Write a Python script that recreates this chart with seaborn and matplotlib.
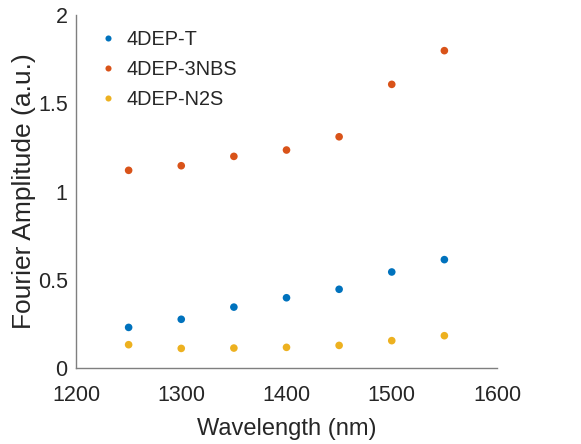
import numpy as np
import pandas as pd
import matplotlib
matplotlib.use("Agg")
import matplotlib.pyplot as plt
import seaborn as sns

wavelength = [1250, 1300, 1350, 1400, 1450, 1500, 1550]
t_vals = [0.23, 0.276, 0.345, 0.398, 0.446, 0.544, 0.614]
nbs_vals = [1.12, 1.146, 1.199, 1.235, 1.31, 1.607, 1.798]
n2s_vals = [0.132, 0.111, 0.113, 0.117, 0.128, 0.155, 0.183]
series_names = ["4DEP-T", "4DEP-3NBS", "4DEP-N2S"]
colors = ["#0072BD", "#D95319", "#EDB120"]

df = pd.DataFrame({
    "Wavelength": wavelength * 3,
    "Amp": t_vals + nbs_vals + n2s_vals,
    "Series": [series_names[0]] * 7 + [series_names[1]] * 7 + [series_names[2]] * 7,
})

sns.set_style("white")
plt.rcParams["font.family"] = ["Liberation Sans", "DejaVu Sans"]

fig = plt.figure(figsize=(5.81, 4.44), dpi=100)
ax = fig.add_axes([76 / 581, 1 - 368 / 444, (497 - 76) / 581, (368 - 15) / 444])

sns.scatterplot(data=df, x="Wavelength", y="Amp", hue="Series",
                palette=colors, s=30, edgecolor="none", ax=ax)

ax.set_xlim(1200, 1600)
ax.set_ylim(0, 2)
ax.set_xticks([1200, 1300, 1400, 1500, 1600])
ax.set_yticks([0, 0.5, 1, 1.5, 2])
ax.set_yticklabels(["0", "0.5", "1", "1.5", "2"])
ax.set_xlabel("Wavelength (nm)", fontsize=17, color="#262626", labelpad=9)
ax.set_ylabel("Fourier Amplitude (a.u.)", fontsize=19, color="#262626", labelpad=1)
ax.tick_params(direction="in", length=4, width=0.8, colors="#262626",
               labelsize=15.5)
ax.tick_params(axis="x", pad=12)
ax.tick_params(axis="y", pad=6)
for side in ["top", "right"]:
    ax.spines[side].set_visible(False)
for side in ["left", "bottom"]:
    ax.spines[side].set_color("#7f7f7f")
    ax.spines[side].set_linewidth(1.0)

leg = ax.legend(loc="upper left", frameon=False, fontsize=14.3,
                handlelength=1.0, handletextpad=0.45, labelspacing=0.55,
                markerscale=0.8, borderaxespad=0.0,
                bbox_to_anchor=(0.033, 0.979))
for txt in leg.get_texts():
    txt.set_color("#262626")

fig.savefig("out.png", dpi=100)
